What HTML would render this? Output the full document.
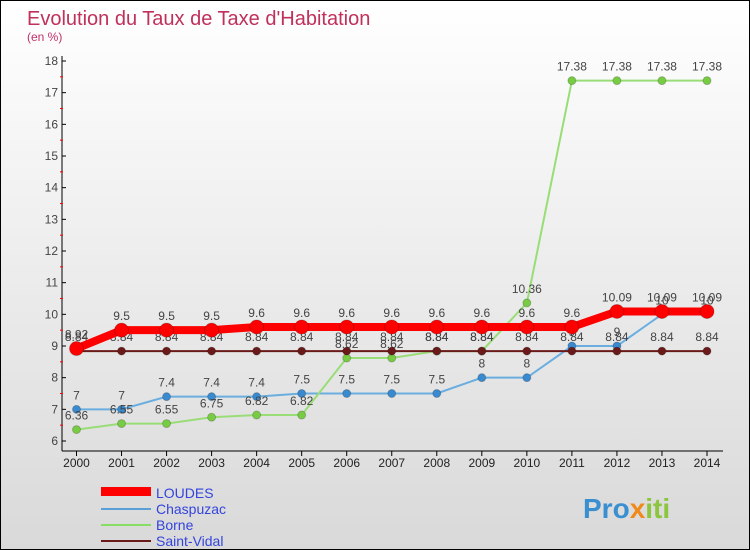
<!DOCTYPE html>
<html><head><meta charset="utf-8"><style>
body{margin:0}
#c{width:750px;height:550px;position:relative;box-sizing:border-box;border:1px solid #000;background:linear-gradient(#fff,#d9d9d9);font-family:"Liberation Sans",sans-serif;overflow:hidden}
</style></head><body>
<div id="c">
<svg width="750" height="550" style="position:absolute;left:0;top:0">
<text x="26" y="24" font-size="20" fill="#c0305a">Evolution du Taux de Taxe d'Habitation</text>
<text x="26" y="40" font-size="12" fill="#c0306a">(en %)</text>
<g id="axes"></g><g id="series"></g>
<g>
<rect x="100" y="486" width="50" height="9" fill="#f00"/>
<text x="155" y="497" font-size="14" fill="#3344dd">LOUDES</text>
<line x1="100" y1="508" x2="150" y2="508" stroke="#5aa0d8" stroke-width="2"/>
<text x="155" y="513" font-size="14" fill="#3344dd">Chaspuzac</text>
<line x1="100" y1="524" x2="150" y2="524" stroke="#88dd66" stroke-width="2"/>
<text x="155" y="529" font-size="14" fill="#3344dd">Borne</text>
<line x1="100" y1="540" x2="150" y2="540" stroke="#6b1a1a" stroke-width="2"/>
<text x="155" y="545" font-size="14" fill="#3344dd">Saint-Vidal</text>
</g>
<text x="582" y="517" font-size="28" font-weight="bold" fill="#3a8fd0">Pro<tspan fill="#f08a1c">x</tspan><tspan fill="#8cc63f">iti</tspan></text>
</svg>
</div>
<script>
const years=[2000,2001,2002,2003,2004,2005,2006,2007,2008,2009,2010,2011,2012,2013,2014];
const loudes=[8.92,9.5,9.5,9.5,9.6,9.6,9.6,9.6,9.6,9.6,9.6,9.6,10.09,10.09,10.09];
const chaspuzac=[7,7,7.4,7.4,7.4,7.5,7.5,7.5,7.5,8,8,9,9,10,10];
const borne=[6.36,6.55,6.55,6.75,6.82,6.82,8.62,8.62,8.84,8.84,10.36,17.38,17.38,17.38,17.38];
const saintVidal=[8.84,8.84,8.84,8.84,8.84,8.84,8.84,8.84,8.84,8.84,8.84,8.84,8.84,8.84,8.84];
const yTicks=[6,7,8,9,10,11,12,13,14,15,16,17,18];
const NS="http://www.w3.org/2000/svg";
const X=i=>75.5+i*(706-75.5)/(years.length-1);
const Y=v=>440-(v-6)*(380/12);
function mk(t,a,p){const e=document.createElementNS(NS,t);for(const k in a)e.setAttribute(k,a[k]);p.appendChild(e);return e;}
const ax=document.getElementById('axes'),sg=document.getElementById('series');
let l=mk('line',{x1:61,y1:55,x2:61,y2:450,stroke:'#000'},ax);


l=mk('line',{x1:61,y1:450,x2:722,y2:450,stroke:'#000'},ax);


yTicks.forEach(v=>{mk('line',{x1:61,y1:Y(v),x2:65,y2:Y(v),stroke:'#000'},ax);
 if(v<18)mk('line',{x1:59,y1:Y(v+0.5),x2:62,y2:Y(v+0.5),stroke:'#f00'},ax);
 const t=mk('text',{x:57,y:Y(v)+4,'font-size':12,fill:'#444','text-anchor':'end'},ax);t.textContent=v;
 
 });
years.forEach((y,i)=>{mk('line',{x1:X(i),y1:450,x2:X(i),y2:455,stroke:'#000'},ax);
 const t=mk('text',{x:X(i),y:466,'font-size':12,fill:'#222','text-anchor':'middle'},ax);t.textContent=y;
 
 });
function series(name,d,col,w,r,dot){
 const g=mk('g',{},sg);
 
 
 mk('polyline',{points:d.map((v,i)=>X(i)+','+Y(v)).join(' '),fill:'none',stroke:col,'stroke-width':w},g);
 d.forEach((v,i)=>{const c=mk('circle',{cx:X(i),cy:Y(v),r:r,fill:dot,stroke:'#0003'},g);
  
  
  const t=mk('text',{x:X(i),y:Y(v)-10,'font-size':12,fill:'#444','text-anchor':'middle'},g);t.textContent=v;});
}
series('chaspuzac',chaspuzac,'#6aaee0',2,4,'#3a8ad0');
series('borne',borne,'#99dd77',2,4,'#77cc44');
series('saint-vidal',saintVidal,'#6b1a1a',2,4,'#6b1a1a');
series('loudes',loudes,'#f00',8,7,'#f00');
</script>
</body></html>
